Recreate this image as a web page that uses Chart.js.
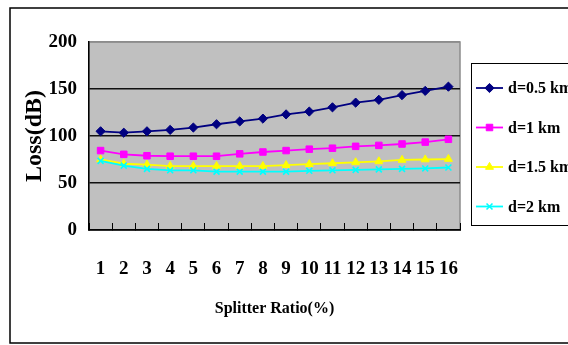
<!DOCTYPE html>
<html>
<head>
<meta charset="utf-8">
<script src="https://cdn.jsdelivr.net/npm/chart.js@4.4.1/dist/chart.umd.min.js"></script>
<style>
  body { margin: 0; background: #fff; }
  #wrap { width: 568px; height: 345px; position: relative; }
</style>
</head>
<body>
<div id="wrap"><canvas id="lossChart"></canvas></div>
<script>
// splitter ratio categories and loss per fibre length
const splitRatio = ['1', '2', '3', '4', '5', '6', '7', '8', '9', '10', '11', '12', '13', '14', '15', '16'];
const loss05 = [105, 103.5, 105, 106.5, 109, 112.5, 115.5, 118.5, 123, 126, 130.5, 135.5, 138.5, 143.5, 148, 152.5];
const loss1 = [84.5, 80.5, 79, 78.5, 78.5, 78.5, 81, 83, 84.5, 86, 87, 89, 90, 91.5, 93.5, 96.5];
const loss15 = [75, 70.5, 69.5, 68, 68, 68, 68, 68, 69, 70, 71, 72, 73, 74.5, 75, 75.5];
const loss2 = [73.5, 68.5, 65, 63.5, 63.5, 62, 62, 62, 62, 63, 63.5, 64, 64.5, 65, 65.5, 66.5];
const seriesNames = ['d=0.5 km', 'd=1 km', 'd=1.5 km', 'd=2 km'];
const yTicks = [0, 50, 100, 150, 200];

const serif = "'Liberation Serif', 'Times New Roman', serif";

function makeSet(label, data, color, style, radius, order) {
  return {
    label: label,
    data: data,
    borderColor: color,
    backgroundColor: color,
    pointBackgroundColor: color,
    pointBorderColor: color,
    pointStyle: style,
    pointRadius: radius,
    pointBorderWidth: style === 'crossRot' ? 1.6 : 1,
    borderWidth: 1.8,
    tension: 0,
    fill: false,
    order: order
  };
}

// grey plot area + frames
const framePlugin = {
  id: 'frames',
  beforeDraw(chart) {
    const { ctx, chartArea: a } = chart;
    ctx.save();
    ctx.fillStyle = '#c0c0c0';
    ctx.fillRect(a.left, a.top, a.right - a.left, a.bottom - a.top);
    ctx.strokeStyle = '#8c8c8c';
    ctx.lineWidth = 1.5;
    ctx.strokeRect(a.left, a.top, a.right - a.left, a.bottom - a.top);
    ctx.restore();
  },
  afterDraw(chart) {
    const ctx = chart.ctx;
    ctx.save();
    // outer border
    ctx.strokeStyle = '#000';
    ctx.lineWidth = 1.5;
    ctx.strokeRect(10, 8, 600, 335);

    // legend box, line + marker per series
    const bx = 471, by = 63;
    ctx.lineWidth = 1;
    ctx.strokeRect(bx + 0.5, by + 0.5, 120, 162);
    ctx.font = 'bold 16px ' + serif;
    ctx.textBaseline = 'middle';
    ctx.textAlign = 'left';
    chart.data.datasets.forEach((ds, i) => {
      const y = by + 25 + i * 39.5;
      ctx.strokeStyle = ds.borderColor;
      ctx.lineWidth = 1.8;
      ctx.beginPath();
      ctx.moveTo(476, y);
      ctx.lineTo(503, y);
      ctx.stroke();
      ctx.fillStyle = ds.backgroundColor;
      ctx.lineWidth = ds.pointBorderWidth;
      Chart.helpers.drawPoint(ctx, { pointStyle: ds.pointStyle, radius: ds.pointRadius, rotation: 0, borderWidth: ds.pointBorderWidth }, 489.5, y);
      ctx.fillStyle = '#000';
      ctx.fillText(ds.label, 508, y + 1);
    });
    ctx.restore();
  }
};

new Chart(document.getElementById('lossChart'), {
  type: 'line',
  data: {
    labels: splitRatio,
    datasets: [
      makeSet(seriesNames[0], loss05, '#000080', 'rectRot', 4.6, 3),
      makeSet(seriesNames[1], loss1, '#ff00ff', 'rect', 4.6, 2),
      makeSet(seriesNames[2], loss15, '#ffff00', 'triangle', 4.6, 1),
      makeSet(seriesNames[3], loss2, '#00ffff', 'crossRot', 4.2, 0)
    ]
  },
  options: {
    responsive: true,
    maintainAspectRatio: false,
    animation: false,
    layout: { padding: { left: 0, right: 108, top: 42, bottom: 0 } },
    plugins: {
      legend: { display: false },
      tooltip: { enabled: false }
    },
    scales: {
      x: {
        offset: true,
        afterFit(scale) { scale.height = 115; },
        grid: {
          offset: true,
          drawOnChartArea: false,
          drawTicks: true,
          tickLength: -7,
          color: '#000',
          lineWidth: 1
        },
        border: { display: true, color: '#000', width: 1.5 },
        ticks: {
          color: '#000',
          font: { family: serif, size: 19, weight: 'bold' },
          padding: 35,
          maxRotation: 0,
          autoSkip: false
        },
        title: {
          display: true,
          text: 'Splitter Ratio(%)',
          color: '#000',
          font: { family: serif, size: 16, weight: 'bold' },
          padding: { top: 0, bottom: 27 }
        }
      },
      y: {
        min: 0,
        max: 200,
        afterFit(scale) { scale.width = 89; },
        afterBuildTicks(scale) { scale.ticks = yTicks.map(v => ({ value: v })); },
        grid: {
          drawTicks: false,
          color: ctx => ctx.tick.value === 200 ? '#8c8c8c' : '#111',
          lineWidth: ctx => ctx.tick.value === 200 ? 1.5 : 1.4
        },
        border: { display: true, color: '#000', width: 1.5 },
        ticks: {
          color: '#000',
          font: { family: serif, size: 19, weight: 'bold' },
          padding: 12
        },
        title: {
          display: true,
          text: 'Loss(dB)',
          color: '#000',
          font: { family: serif, size: 24, weight: 'bold' },
          padding: { top: 20, bottom: 0 }
        }
      }
    }
  },
  plugins: [framePlugin]
});
</script>
</body>
</html>
